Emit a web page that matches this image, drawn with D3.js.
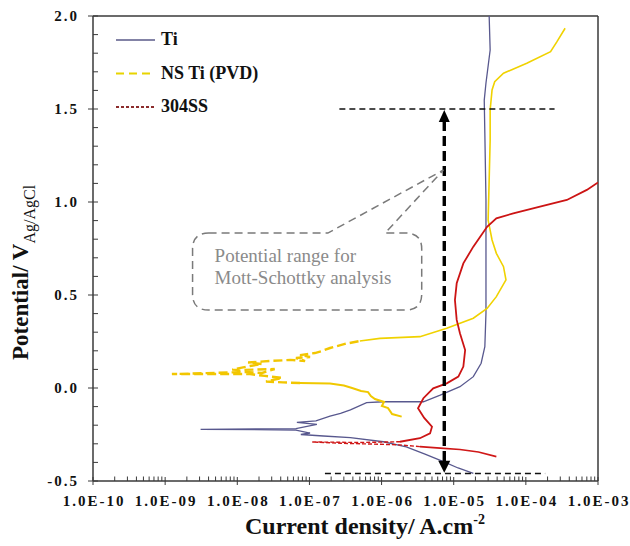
<!DOCTYPE html>
<html>
<head>
<meta charset="utf-8">
<script src="https://cdn.jsdelivr.net/npm/d3@7"></script>
<style>
  body { margin: 0; background: #fff; }
  svg { display: block; font-family: "Liberation Serif", "Times New Roman", serif; }
</style>
</head>
<body>
<svg id="chart" width="630" height="546"></svg>
<script>
// Values (current in A/cm2, potential in V vs Ag/AgCl)
const tiCurrent = [1.87e-5, 1.15e-5, 7.2e-6, 4.0e-6, 2.2e-6, 1.06e-6, 3.7e-7, 1.56e-7, 7.6e-8, 1.02e-7,
    6.5e-8, 3.1e-9, 6.5e-8, 1.27e-7, 6.7e-8, 1.23e-7, 1.93e-7, 2.7e-7, 3.7e-7, 6.2e-7,
    1.06e-6, 3.8e-6, 6.5e-6, 1.22e-5, 1.87e-5, 2.4e-5, 2.7e-5, 2.8e-5, 2.8e-5, 2.7e-5,
    2.65e-5, 2.8e-5, 3.2e-5, 3.1e-5];
const tiPotential = [-0.459, -0.430, -0.396, -0.355, -0.316, -0.289, -0.267, -0.258, -0.250, -0.242,
    -0.226, -0.222, -0.218, -0.196, -0.185, -0.177, -0.151, -0.136, -0.118, -0.079,
    -0.074, -0.074, -0.038, 0.007, 0.061, 0.133, 0.222, 0.403, 1.011, 1.371,
    1.548, 1.640, 1.817, 2.0];

const nsTiCurrent = [1.9e-6, 1.4e-6, 1.23e-6, 1.01e-6, 1.08e-6, 8.1e-7, 7.1e-7, 6.5e-7, 5.2e-7, 3.9e-7,
    3.0e-7, 1.93e-7, 7.4e-8, 4.3e-8, 2.5e-8, 4.2e-8, 2.4e-8, 1.5e-8, 1.24e-9, 1.28e-8,
    2.2e-8, 3.3e-8, 1.09e-8, 8.5e-9, 1.5e-8, 2.2e-8, 1.41e-8, 2.8e-8, 5.4e-8, 8.7e-8,
    6.5e-8, 1.02e-7, 7.4e-8, 1.19e-7, 1.49e-7, 1.93e-7, 3.1e-7, 5.0e-7, 9.5e-7, 3.4e-6,
    8.0e-6, 1.87e-5, 2.9e-5, 3.9e-5, 5.3e-5, 4.9e-5, 3.9e-5, 3.4e-5, 3.0e-5, 3.1e-5,
    3.2e-5, 3.2e-5, 3.4e-5, 3.7e-5, 4.9e-5, 1.03e-4, 2.2e-4, 2.7e-4, 3.5e-4];
const nsTiPotential = [-0.154, -0.140, -0.108, -0.097, -0.075, -0.059, -0.043, -0.022, -0.016, 0.000,
    0.013, 0.024, 0.027, 0.030, 0.035, 0.054, 0.065, 0.075, 0.075, 0.086,
    0.081, 0.102, 0.097, 0.099, 0.118, 0.129, 0.137, 0.145, 0.151, 0.145,
    0.161, 0.167, 0.177, 0.188, 0.199, 0.215, 0.237, 0.253, 0.267, 0.276,
    0.321, 0.375, 0.428, 0.491, 0.581, 0.652, 0.724, 0.796, 0.903, 1.118,
    1.333, 1.495, 1.602, 1.647, 1.692, 1.746, 1.808, 1.862, 1.934];

const ssCurrent = [3.9e-5, 2.2e-5, 1.22e-5, 6.5e-6, 3.4e-6, 1.8e-6, 6.9e-7, 2.7e-7, 1.09e-7, 5.0e-7,
    1.8e-6, 3.4e-6, 4.7e-6, 5.0e-6, 3.9e-6, 3.2e-6, 3.8e-6, 5.2e-6, 8.0e-6, 1.16e-5,
    1.36e-5, 1.44e-5, 1.22e-5, 1.10e-5, 1.04e-5, 1.10e-5, 1.36e-5, 1.87e-5, 2.9e-5, 3.9e-5,
    6.7e-5, 1.57e-4, 3.7e-4, 7.0e-4, 1.0e-3];
const ssPotential = [-0.369, -0.344, -0.331, -0.323, -0.315, -0.306, -0.301, -0.297, -0.290, -0.293,
    -0.289, -0.270, -0.244, -0.208, -0.161, -0.109, -0.055, -0.002, 0.025, 0.061,
    0.115, 0.204, 0.294, 0.366, 0.473, 0.563, 0.670, 0.760, 0.867, 0.912,
    0.939, 0.975, 1.011, 1.065, 1.105];

const xTickValues = [1e-10, 1e-9, 1e-8, 1e-7, 1e-6, 1e-5, 1e-4, 1e-3];
const xTickLabels = ["1.0E-10", "1.0E-09", "1.0E-08", "1.0E-07", "1.0E-06", "1.0E-05", "1.0E-04", "1.0E-03"];
const yTickValues = [-0.5, 0.0, 0.5, 1.0, 1.5, 2.0];
const yTickLabels = ["-0.5", "0.0", "0.5", "1.0", "1.5", "2.0"];

const legendLabels = ["Ti", "NS Ti (PVD)", "304SS"];

// Mott-Schottky range markers
const rangePotential = [1.5, -0.46];
const rangeFrom = [2.6e-7, 1.64e-7];
const rangeTo = [2.5e-4, 1.85e-4];
const arrowCurrent = 7.4e-6;
const arrowPotential = [1.495, -0.455];
const calloutCurrent = [2.4e-9, 3.6e-6];      // box left, right
const calloutPotential = [0.833, 0.419];      // box top, bottom
const calloutTip = [7.2e-6, 1.172];
const calloutBase = [1.8e-7, 1.12e-6];
const calloutLines = ["Potential range for", "Mott-Schottky analysis"];

const svg = d3.select("#chart");
const x = d3.scaleLog().domain([1e-10, 1e-3]).range([93, 598]);
const y = d3.scaleLinear().domain([-0.5, 2.0]).range([481, 16]);
const [x0, x1] = x.range();
const [y1, y0] = y.range();

svg.append("defs").append("clipPath").attr("id", "plot")
    .append("rect")
    .attr("x", x0).attr("y", y0)
    .attr("width", x1 - x0).attr("height", y1 - y0);

// Frame
const frame = svg.append("g").attr("stroke", "#3a3a3a").attr("stroke-width", 1.5);
frame.append("line").attr("x1", x0).attr("x2", x0).attr("y1", y0).attr("y2", y1);
frame.append("line").attr("x1", x0).attr("x2", x1).attr("y1", y1).attr("y2", y1);
frame.append("line").attr("x1", x0).attr("x2", x1).attr("y1", y0).attr("y2", y0);
frame.append("line").attr("x1", x1).attr("x2", x1).attr("y1", y0).attr("y2", y1);

// Y ticks: majors cross the axis, minors point inward
const yMinor = d3.range(-5, 21).map(d => d / 10);
svg.append("g").attr("stroke", "#3a3a3a").attr("stroke-width", 1)
    .selectAll("line").data(yMinor).join("line")
    .attr("x1", d => yTickValues.includes(d) ? x0 - 5 : x0)
    .attr("x2", x0 + 5)
    .attr("y1", d => y(d)).attr("y2", d => y(d));

svg.append("g")
    .selectAll("text").data(yTickValues).join("text")
    .attr("x", 79)
    .attr("y", d => y(d) + 5)
    .attr("text-anchor", "end")
    .attr("font-size", 15)
    .attr("font-weight", "bold")
    .attr("letter-spacing", 2)
    .attr("fill", "#111")
    .text((d, i) => yTickLabels[i]);

// X ticks: decades cross the axis, 2..9 point inward
const xMinor = [];
xTickValues.slice(0, -1).forEach(dec => {
    for (let k = 2; k <= 9; k++) xMinor.push(dec * k);
});
const xTicks = svg.append("g").attr("stroke", "#3a3a3a").attr("stroke-width", 1);
xTicks.selectAll("line.minor").data(xMinor).join("line")
    .attr("class", "minor")
    .attr("x1", d => x(d)).attr("x2", d => x(d))
    .attr("y1", y1).attr("y2", y1 - 4.5);
xTicks.selectAll("line.major").data(xTickValues).join("line")
    .attr("class", "major")
    .attr("x1", d => x(d)).attr("x2", d => x(d))
    .attr("y1", y1 + 4).attr("y2", y1 - 4);

svg.append("g")
    .selectAll("text").data(xTickValues).join("text")
    .attr("x", d => x(d) + 1)
    .attr("y", 506)
    .attr("text-anchor", "middle")
    .attr("font-size", 15)
    .attr("font-weight", "bold")
    .attr("letter-spacing", 2)
    .attr("fill", "#111")
    .text((d, i) => xTickLabels[i]);

// Axis titles
const xTitle = svg.append("text")
    .attr("x", 245).attr("y", 534)
    .attr("font-size", 24).attr("font-weight", "bold").attr("fill", "#111");
xTitle.append("tspan").text("Current density/ A.cm");
xTitle.append("tspan").attr("font-size", 14).attr("dy", -10).text("-2");

const yTitle = svg.append("text")
    .attr("transform", "translate(28,360) rotate(-90)")
    .attr("fill", "#111");
yTitle.append("tspan").attr("font-size", 23).attr("font-weight", "bold").text("Potential/ V");
yTitle.append("tspan").attr("font-size", 16).attr("dy", 7).text("Ag/AgCl");

// Curves
const line = d3.line().x(d => x(d[0])).y(d => y(d[1]));
const plot = svg.append("g").attr("clip-path", "url(#plot)").attr("fill", "none");

const ti = d3.zip(tiCurrent, tiPotential);
const nsTi = d3.zip(nsTiCurrent, nsTiPotential);
const ss = d3.zip(ssCurrent, ssPotential);

plot.append("path").attr("d", line(ti))
    .attr("stroke", "#58588e").attr("stroke-width", 1.3);

// NS Ti: noisy low-current part looks broken up in the original
plot.append("path").attr("d", line(nsTi.slice(0, 13)))
    .attr("stroke", "#f0c800").attr("stroke-width", 2);
plot.append("path").attr("d", line(nsTi.slice(12, 38)))
    .attr("stroke", "#f2c600").attr("stroke-width", 2.4).attr("stroke-dasharray", "9,4");
plot.append("path").attr("d", line(nsTi.slice(37)))
    .attr("stroke", "#f0d200").attr("stroke-width", 1.6);

plot.append("path").attr("d", line(ss.slice(0, 5)))
    .attr("stroke", "#d01818").attr("stroke-width", 1.6);
plot.append("path").attr("d", line(ss.slice(4, 11)))
    .attr("stroke", "#d01818").attr("stroke-width", 1.4).attr("stroke-dasharray", "4,2");
plot.append("path").attr("d", line(ss.slice(10)))
    .attr("stroke", "#cc1414").attr("stroke-width", 1.8);

// Range lines
svg.append("g")
    .selectAll("line").data(rangePotential).join("line")
    .attr("x1", (d, i) => x(rangeFrom[i]))
    .attr("x2", (d, i) => x(rangeTo[i]))
    .attr("y1", d => y(d)).attr("y2", d => y(d))
    .attr("stroke", "#111").attr("stroke-width", 1.6)
    .attr("stroke-dasharray", "6,4");

// Double-headed dashed arrow
const ax = x(arrowCurrent);
const aTop = y(arrowPotential[0]);
const aBot = y(arrowPotential[1]);
svg.append("line")
    .attr("x1", ax).attr("x2", ax)
    .attr("y1", aTop + 11).attr("y2", aBot - 11)
    .attr("stroke", "#000").attr("stroke-width", 3.4)
    .attr("stroke-dasharray", "10,5");
svg.append("path")
    .attr("d", `M${ax},${aTop} L${ax - 5.5},${aTop + 12} L${ax + 5.5},${aTop + 12} Z`)
    .attr("fill", "#000");
svg.append("path")
    .attr("d", `M${ax},${aBot} L${ax - 6},${aBot - 12} L${ax + 6},${aBot - 12} Z`)
    .attr("fill", "#000");

// Callout box with pointer
const bx0 = x(calloutCurrent[0]), bx1 = x(calloutCurrent[1]);
const by0 = y(calloutPotential[0]), by1 = y(calloutPotential[1]);
const r = 16;
const tipX = x(calloutTip[0]), tipY = y(calloutTip[1]);
const baseL = x(calloutBase[0]), baseR = x(calloutBase[1]);
const callout = d3.path();
callout.moveTo(bx0 + r, by0);
callout.lineTo(baseL, by0);
callout.lineTo(tipX, tipY);
callout.lineTo(baseR, by0);
callout.lineTo(bx1 - r, by0);
callout.quadraticCurveTo(bx1, by0, bx1, by0 + r);
callout.lineTo(bx1, by1 - r);
callout.quadraticCurveTo(bx1, by1, bx1 - r, by1);
callout.lineTo(bx0 + r, by1);
callout.quadraticCurveTo(bx0, by1, bx0, by1 - r);
callout.lineTo(bx0, by0 + r);
callout.quadraticCurveTo(bx0, by0, bx0 + r, by0);
svg.append("path").attr("d", callout.toString())
    .attr("fill", "none").attr("stroke", "#7a7a7a")
    .attr("stroke-width", 1.5).attr("stroke-dasharray", "8,5");

svg.append("g")
    .selectAll("text").data(calloutLines).join("text")
    .attr("x", bx0 + 22)
    .attr("y", (d, i) => by0 + 29 + i * 22)
    .attr("font-size", 19)
    .attr("fill", "#8a8a8a")
    .text(d => d);

// Legend
const legendStroke = ["#5a5a88", "#e8d400", "#8c2c2c"];
const legendDash = [null, "8,5", "3,2"];
const legend = svg.append("g")
    .selectAll("g").data(legendLabels).join("g")
    .attr("transform", (d, i) => `translate(0,${40 + i * 33.5})`);
legend.append("line")
    .attr("x1", 116).attr("x2", 155)
    .attr("stroke", (d, i) => legendStroke[i])
    .attr("stroke-width", (d, i) => i === 0 ? 1.5 : 2)
    .attr("stroke-dasharray", (d, i) => legendDash[i]);
legend.append("text")
    .attr("x", 161).attr("y", 5)
    .attr("font-size", 18).attr("font-weight", "bold")
    .attr("fill", "#111")
    .text(d => d);
</script>
</body>
</html>
